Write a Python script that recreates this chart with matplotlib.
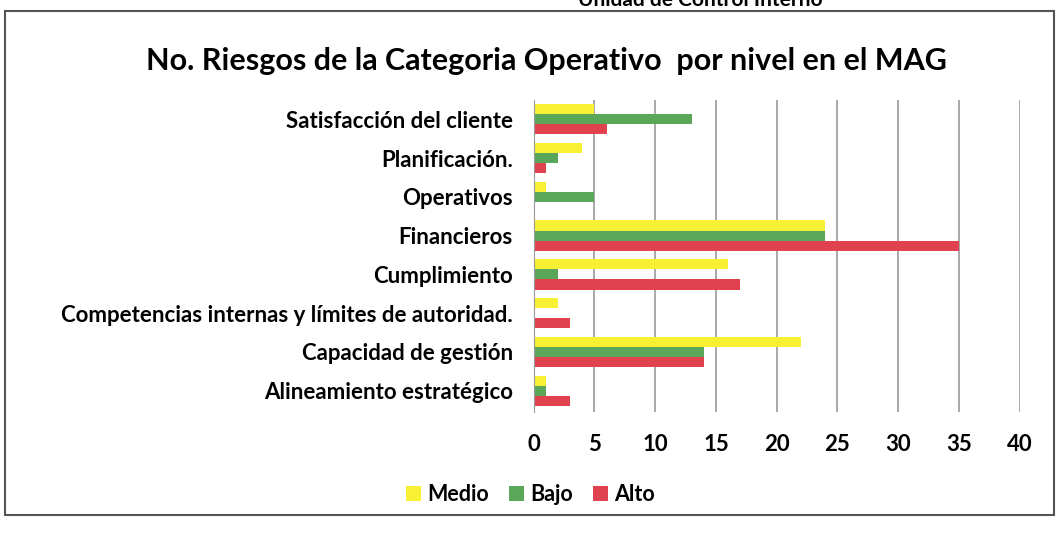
import numpy as np
import matplotlib.pyplot as plt
from matplotlib.patches import Rectangle

# Data (bottom to top, as drawn)
categorias = ['Alineamiento estratégico', 'Capacidad de gestión',
              'Competencias internas y límites de autoridad.', 'Cumplimiento',
              'Financieros', 'Operativos', 'Planificación.', 'Satisfacción del cliente']
medio = [1, 22, 2, 16, 24, 1, 4, 5]
bajo = [1, 14, 0, 2, 24, 5, 2, 13]
alto = [3, 14, 3, 17, 35, 0, 1, 6]

plt.rcParams['font.family'] = ['Lato', 'DejaVu Sans']

fig = plt.figure(figsize=(10.61, 5.39), dpi=100)
ax = fig.add_axes([0.503, 0.2356, 0.458, 0.579])

y = np.arange(len(categorias))
h = 0.26
ax.barh(y + h, medio, height=h, color='#f7f035', label='Medio')
ax.barh(y, bajo, height=h, color='#5aa75a', label='Bajo')
ax.barh(y - h, alto, height=h, color='#e0434f', label='Alto')

ax.set_xlim(0, 40)
ax.set_ylim(-0.55, 7.5)
ax.set_xticks(np.arange(0, 41, 5))
ax.set_yticks(y)
ax.set_yticklabels(categorias)
ax.tick_params(axis='both', length=0, labelsize=16)
ax.tick_params(axis='x', pad=16)
ax.tick_params(axis='y', pad=15)
for lbl in ax.get_xticklabels() + ax.get_yticklabels():
    lbl.set_fontweight('bold')
ax.xaxis.grid(True, color='#9a9a9a', linewidth=1.2)
ax.set_axisbelow(True)
for s in ['top', 'right', 'bottom']:
    ax.spines[s].set_visible(False)
ax.spines['left'].set_color('#9a9a9a')

fig.text(0.515, 0.887, 'No. Riesgos de la Categoria Operativo  por nivel en el MAG',
         ha='center', va='center', fontsize=22, fontweight='bold')
fig.text(0.66, 1.0, 'Unidad de Control Interno', ha='center', va='center',
         fontsize=15, fontweight='bold')

fig.legend(loc='center', bbox_to_anchor=(0.5, 0.082), ncol=3, frameon=False,
           prop={'size': 15.5, 'weight': 'bold'}, handlelength=0.7, handleheight=0.7,
           columnspacing=0.9, handletextpad=0.3)

# border of the chart box
fig.patches.append(Rectangle((0.005, 0.045), 0.988, 0.935, transform=fig.transFigure,
                             fill=False, edgecolor='#555555', linewidth=1.5))

fig.savefig('out.png', dpi=100)
